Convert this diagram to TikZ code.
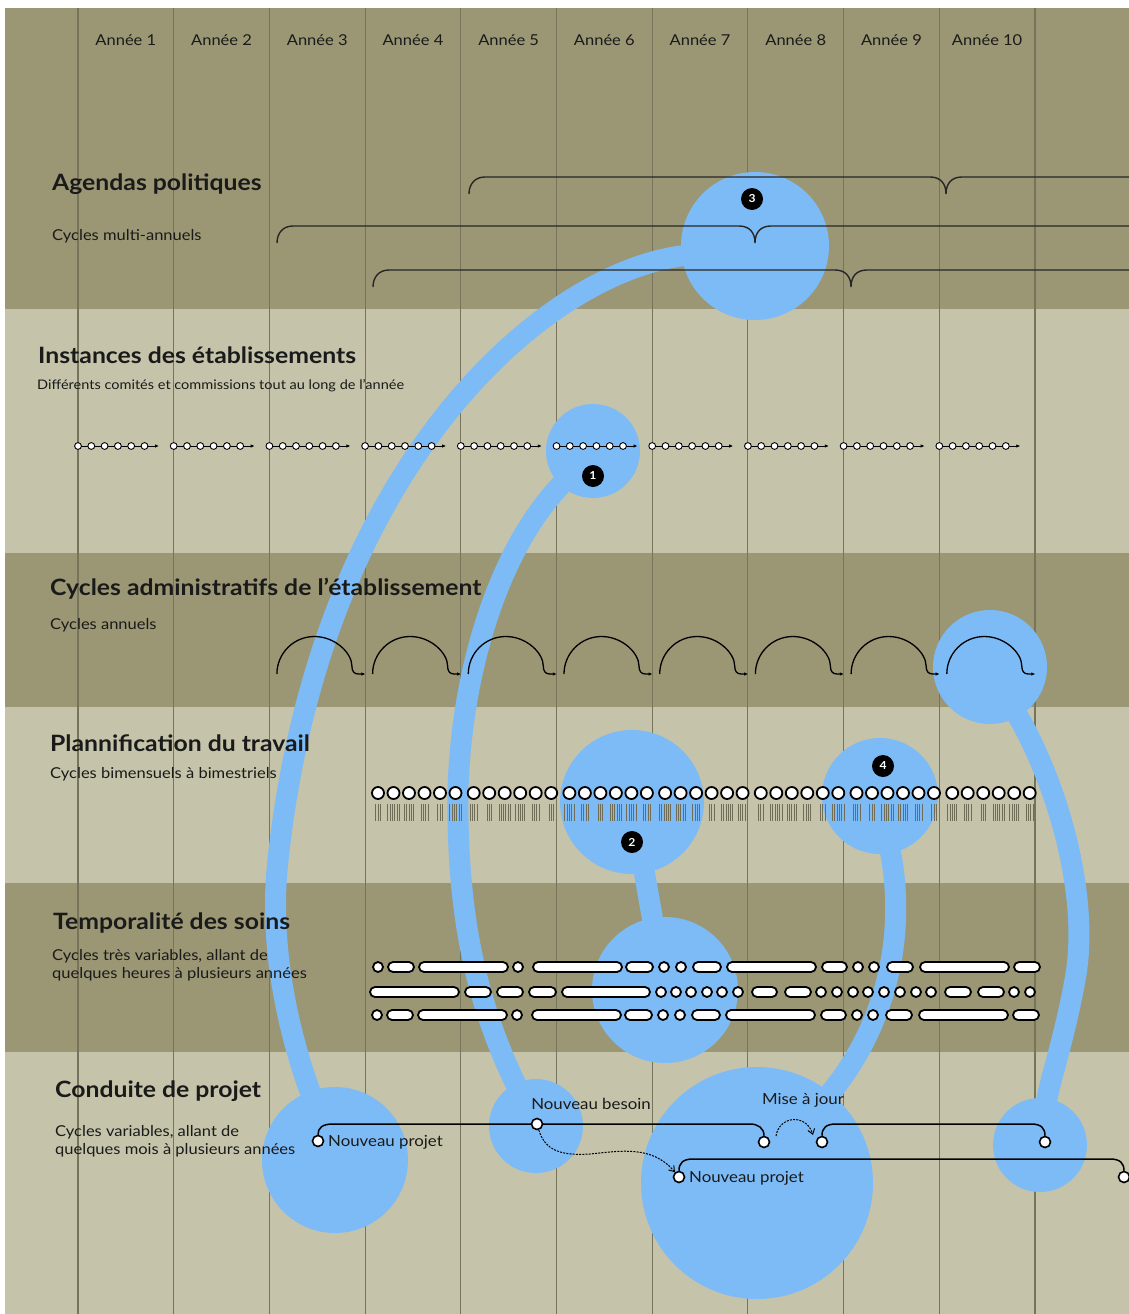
\documentclass[tikz,border=0pt]{standalone}
\usepackage{fontspec}
\setmainfont{Lato}[FakeStretch=1.1]
\usetikzlibrary{arrows.meta}
\definecolor{bandDark}{HTML}{9B9775}
\definecolor{bandLight}{HTML}{C5C4AA}
\definecolor{gridLine}{HTML}{77745C}
\definecolor{bubbleBlue}{HTML}{7DBBF7}
\definecolor{barGrey}{HTML}{6F6C58}
\definecolor{inkDark}{HTML}{1A1A1A}
\tikzset{
  bubble/.style={circle, fill=bubbleBlue, inner sep=0pt},
  band/.style={draw=bubbleBlue, line width=21pt, line cap=round},
  badge/.style={circle, fill=black, text=white, inner sep=0pt, minimum size=22pt, font=\fontsize{11}{11}\selectfont\bfseries},
  yearlbl/.style={text=inkDark, font=\fontsize{15}{17}\selectfont},
  title/.style={anchor=west, inner sep=0pt, text=inkDark, font=\fontsize{22.5}{26}\selectfont\bfseries},
  subtitle/.style={anchor=west, inner sep=0pt, align=left, text=inkDark, font=\fontsize{15}{18}\selectfont},
  lbl/.style={inner sep=0pt, text=inkDark, font=\fontsize{15.3}{17}\selectfont},
  bracketline/.style={draw=black!85, line width=1.4pt},
  idot/.style={circle, draw=black, fill=white, line width=0.9pt, minimum size=6.8pt, inner sep=0pt},
  pdotbig/.style={circle, draw=black, fill=white, line width=1.8pt, minimum size=12pt, inner sep=0pt},
  pill/.style={draw=black, fill=white, line width=1.8pt, rounded corners=5pt},
  bar/.style={draw=barGrey, line width=0.8pt},
  tl/.style={draw=black, line width=1.5pt},
  pdot/.style={circle, draw=black, fill=white, line width=1.6pt, minimum size=11pt, inner sep=0pt},
}
\begin{document}
\begin{tikzpicture}[x=1pt, y=-1pt]
\useasboundingbox (0,0) rectangle (1129,1314);
\fill[white] (0,0) rectangle (1129,1314);
% horizontal bands
\fill[bandDark]  (5,8)    rectangle (1129,309);
\fill[bandLight] (5,309)  rectangle (1129,553);
\fill[bandDark]  (5,553)  rectangle (1129,707);
\fill[bandLight] (5,707)  rectangle (1129,883);
\fill[bandDark]  (5,883)  rectangle (1129,1052);
\fill[bandLight] (5,1052) rectangle (1129,1314);
% year grid
\foreach \k in {0,...,10}
  \draw[gridLine, line width=1.1pt] ({78+95.7*\k},8) -- ({78+95.7*\k},1314);
\foreach \k in {1,...,10}
  \node[yearlbl] (year\k) at ({78+95.7*(\k-0.5)},40) {Année \k};

% blue bubbles
\node[bubble, minimum size=148pt] (c3) at (755,246) {};
\node[bubble, minimum size=94pt]  (c1) at (593,451) {};
\node[bubble, minimum size=114pt] (cA) at (990,667) {};
\node[bubble, minimum size=144pt] (c2) at (632,802) {};
\node[bubble, minimum size=116pt] (c4) at (880,796) {};
\node[bubble, minimum size=146pt] (cT) at (665,990) {};
\node[bubble, minimum size=146pt] (cL) at (335,1160) {};
\node[bubble, minimum size=94pt]  (cB) at (536,1126) {};
\node[bubble, minimum size=232pt] (cP) at (757,1183) {};
\node[bubble, minimum size=94pt]  (cR) at (1040,1145) {};

% blue links between bubbles
\draw[band] (c3) .. controls (540,275) and (320,470) .. (278,860)
                 .. controls (267,957) and (295,1050) .. (cL);
\draw[band] (c1) .. controls (490,560) and (455,700) .. (458,820)
                 .. controls (460,930) and (480,1010) .. (cB);
\draw[band] (c2) -- (cT);
\draw[band] (c4) .. controls (905,930) and (890,1020) .. (cP);
\draw[band] (cA) .. controls (1060,790) and (1090,900) .. (1075,980)
                 .. controls (1064,1040) and (1050,1080) .. (cR);

% multi-year brackets
\foreach \xl/\yt/\xc in {469/177/946, 277/226/755, 373/270/851}
  \draw[bracketline] (\xl,\yt+17) .. controls (\xl,\yt+7) and (\xl+6,\yt) .. (\xl+16,\yt)
     -- (\xc-16,\yt) .. controls (\xc-6,\yt) and (\xc,\yt+6) .. (\xc,\yt+17)
     .. controls (\xc,\yt+6) and (\xc+6,\yt) .. (\xc+16,\yt) -- (1129,\yt);

% committees along each year
\foreach \g in {0,...,9}{
  \draw[black, line width=0.9pt, -{Latex[length=4pt,width=3.5pt]}]
     ({78+95.7*\g},446) -- ({78+95.7*\g+81},446);
  \foreach \k in {0,...,5}
    \node[idot] (inst-\g-\k) at ({78+95.7*\g+13.3*\k},446) {};
}

% annual administrative cycles
\foreach \g in {0,...,7}{
  \pgfmathsetmacro\L{269.4+95.7*\g}
  \draw[black, line width=1.3pt, -{Latex[length=4pt,width=3.5pt]}]
    (\L+7.5,674) .. controls (\L+7.5,653.3) and (\L+24.3,636.5) .. (\L+45,636.5)
    .. controls (\L+65.7,636.5) and (\L+82.5,653) .. (\L+82.5,666)
    .. controls (\L+82.5,671) and (\L+84.5,674) .. (\L+89,674) -- (\L+96,674);
}

% work planning: fortnightly points and their task ticks
\foreach \g in {0,...,6}{
  \foreach \k in {0,...,5}{
    \pgfmathsetmacro\cx{378+95.7*\g+15.5*\k}
    \pgfmathtruncatemacro\n{3+mod(\g*5+\k*7,4)}
    \foreach \j in {1,...,\n}
      \draw[bar] ({\cx+(\j-(\n+1)/2)*2.3},804) -- ++(0,17);
    \node[pdotbig] (plan-\g-\k) at (\cx,793) {};
  }
}

% care temporalities
\foreach \a/\b in {373/383, 388/414, 419/508, 513/523, 533/622, 626/653, 659/669, 676/686,
                   693/721, 727/816, 822/847, 853/863, 869/879, 887/913, 920/1009, 1014/1040}{
  \draw[pill] (\a,962) rectangle (\b,972);
  \draw[pill] (\a-1,1010) rectangle (\b-1,1020);
}
\foreach \a/\b in {370/459, 465/491, 497/523, 529/556, 562/650, 752/777, 785/811, 945/971, 978/1004}
  \draw[pill] (\a,987) rectangle (\b,997);
\foreach \c in {661,676,691,707,722,738,821,837,853,868,884,900,916,931,1014,1030}
  \draw[pill] (\c-5,987) rectangle (\c+5,997);

% badges
\node[badge] (b3) at (752,199) {3};
\node[badge] (b1) at (593,476) {1};
\node[badge] (b2) at (632,842) {2};
\node[badge] (b4) at (883,766) {4};

% section titles
\node[title] (tA) at (52,184) {Agendas politiques};
\node[subtitle] (sA) at (52,236) {Cycles multi-annuels};
\node[title] (tI) at (38,355) {Instances des établissements};
\node[subtitle, font=\fontsize{13.2}{16}\selectfont] (sI) at (37,386) {Différents comités et commissions tout au long de l’année};
\node[title] (tC) at (50,589) {Cycles administratifs de l’établissement};
\node[subtitle] (sC) at (50,625) {Cycles annuels};
\node[title] (tP) at (50,743) {Plannification du travail};
\node[subtitle] (sP) at (50,774) {Cycles bimensuels à bimestriels};
\node[title] (tT) at (53,923) {Temporalité des soins};
\node[subtitle] (sT) at (52,965) {Cycles très variables, allant de\\quelques heures à plusieurs années};
\node[title] (tJ) at (55,1091) {Conduite de projet};
\node[subtitle] (sJ) at (55,1141) {Cycles variables, allant de\\quelques mois à plusieurs années};

% project timelines
\node[pdot] (p1s) at (318,1141) {};
\node[pdot] (p1e) at (764,1142) {};
\node[pdot] (p2s) at (822,1142) {};
\node[pdot] (p2e) at (1045,1142) {};
\node[pdot] (p3s) at (679,1177) {};
\node[pdot] (p3e) at (1124,1177) {};
\draw[tl] (p1s.north) .. controls (318,1128) and (322,1124) .. (333,1124) -- (750,1124)
          .. controls (758,1124) and (764,1128) .. (p1e.north);
\draw[tl] (p2s.north) .. controls (822,1128) and (826,1124) .. (836,1124) -- (1031,1124)
          .. controls (1041,1124) and (1045,1128) .. (p2e.north);
\draw[tl] (p3s.north) .. controls (679,1163) and (683,1159) .. (693,1159) -- (1110,1159)
          .. controls (1120,1159) and (1124,1163) .. (p3e.north);
\node[pdot] (nb) at (537,1124) {};
\draw[black, line width=1pt, dash pattern=on 2pt off 1.2pt, -{Straight Barb[length=5pt,width=7pt]}]
  (nb) .. controls (545,1150) and (560,1156) .. (590,1154)
       .. controls (620,1151) and (652,1145) .. (p3s);
\draw[black, line width=1pt, dash pattern=on 2pt off 1.2pt, -{Straight Barb[length=5pt,width=7pt]}]
  ([xshift=12pt,yshift=6pt]p1e.center) .. controls (779,1116) and (806,1113)
       .. ([xshift=-9pt,yshift=7pt]p2s.center);
\node[lbl, anchor=west] (lp1) at (328,1142) {Nouveau projet};
\node[lbl] (lnb) at (591,1104) {Nouveau besoin};
\node[lbl] (lmj) at (803,1100) {Mise à jour};
\node[lbl, anchor=west] (lp2) at (689,1178) {Nouveau projet};
\end{tikzpicture}
\end{document}
